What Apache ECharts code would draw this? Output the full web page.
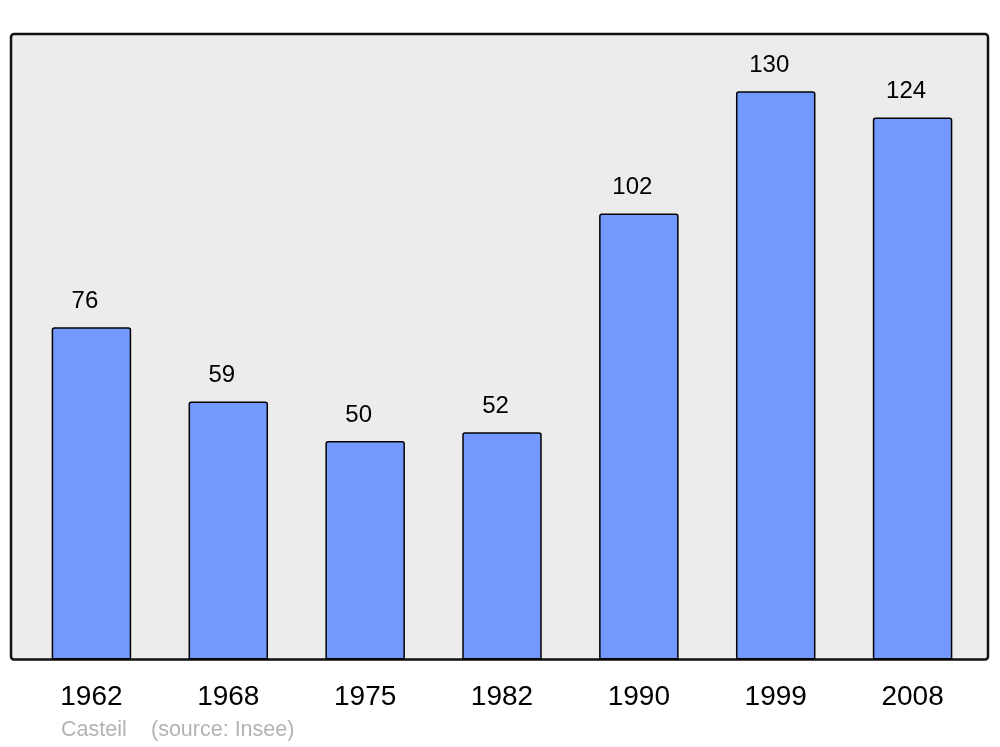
<!DOCTYPE html>
<html><head><meta charset="utf-8">
<script src="https://cdn.jsdelivr.net/npm/echarts@6/dist/echarts.min.js"></script>
<style>html,body{margin:0;padding:0;background:#fff}#c{width:1000px;height:747px}</style>
</head><body><div id="c"></div>
<script>
const categories = ['1962','1968','1975','1982','1990','1999','2008'];
const population = [76, 59, 50, 52, 102, 130, 124];
const place = 'Casteil';
const source = '(source: Insee)';

const chart = echarts.init(document.getElementById('c'), null, {renderer:'canvas'});
const font = '"Liberation Sans", Arial, sans-serif';
chart.setOption({
  animation: false,
  backgroundColor: '#ffffff',
  graphic: [
    {type:'rect', z:-10, shape:{x:11,y:34,width:977,height:625.5,r:3},
     style:{fill:'#ececec', stroke:'#111111', lineWidth:2.5}},
    {type:'text', left:61, top:719.5, style:{text:place, fill:'#b3b3b3', font:'21.5px '+font}},
    {type:'text', left:151, top:719.5, style:{text:source, fill:'#b3b3b3', font:'21.5px '+font}}
  ],
  grid: {left:23, right:19, top:33, bottom:87.5},
  xAxis: {
    type:'category', data:categories,
    axisLine:{show:false}, axisTick:{show:false},
    axisLabel:{color:'#000', fontSize:28, fontFamily:font, margin:24}
  },
  yAxis: {type:'value', min:0, max:143.3, show:false, splitLine:{show:false}},
  series: [{
    type:'bar', data:population, barWidth:79.5,
    itemStyle:{color:'#7399ff', borderColor:'#000', borderWidth:1.5, borderRadius:[2,2,0,0]},
    label:{show:true, position:'top', distance:14, offset:[-6.5,0], color:'#000', fontSize:24, fontFamily:font}
  }]
});
</script></body></html>
